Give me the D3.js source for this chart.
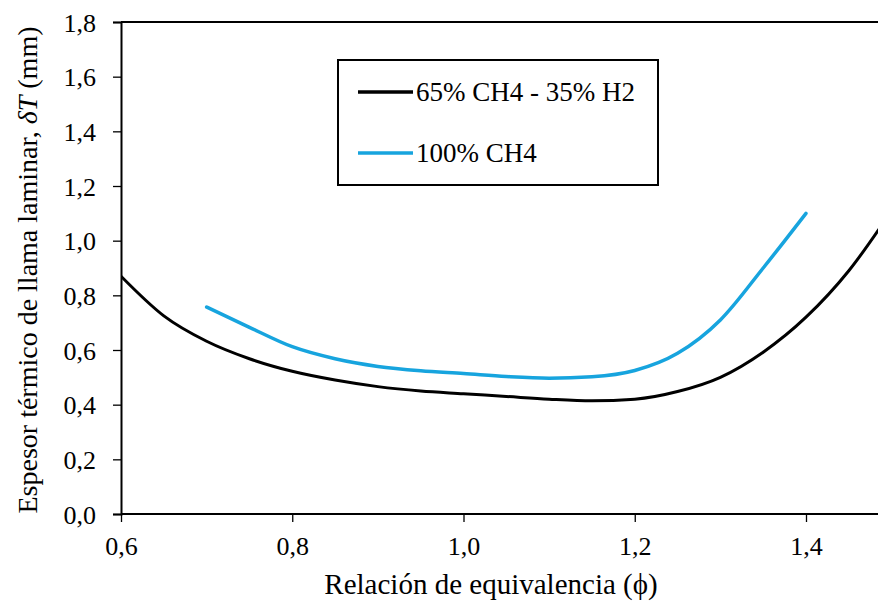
<!DOCTYPE html>
<html>
<head>
<meta charset="utf-8">
<script src="https://cdn.jsdelivr.net/npm/d3@7"></script>
<style>
  body { margin: 0; background: #fff; }
  svg { display: block; }
  svg text { font-family: "Liberation Serif", "DejaVu Serif", serif; fill: #000; }
</style>
</head>
<body>
<svg id="chart" width="878" height="609"></svg>
<script>
// equivalence ratio values
const phiMix = [0.6, 0.65, 0.7, 0.75, 0.8, 0.85, 0.9, 0.95, 1.0, 1.05, 1.1, 1.15, 1.2, 1.25, 1.3, 1.35, 1.4, 1.45, 1.5];
const mix = [0.87, 0.725, 0.632, 0.568, 0.522, 0.49, 0.466, 0.45, 0.44, 0.43, 0.42, 0.414, 0.42, 0.448, 0.5, 0.592, 0.72, 0.89, 1.11];
const phiCH4 = [0.7, 0.75, 0.8, 0.85, 0.9, 0.95, 1.0, 1.05, 1.1, 1.15, 1.2, 1.25, 1.3, 1.35, 1.4];
const ch4 = [0.757, 0.683, 0.612, 0.568, 0.54, 0.524, 0.514, 0.503, 0.497, 0.502, 0.525, 0.588, 0.71, 0.9, 1.1];
const xTicks = [0.6, 0.8, 1.0, 1.2, 1.4];
const yTicks = [0, 0.2, 0.4, 0.6, 0.8, 1.0, 1.2, 1.4, 1.6, 1.8];
const seriesNames = ["65% CH4 - 35% H2", "100% CH4"];

const svg = d3.select("#chart");
const plotLeft = 121, plotTop = 22, plotBottom = 514;

const x = d3.scaleLinear().domain([0.6, 1.4]).range([plotLeft, 806]);
const y = d3.scaleLinear().domain([0, 1.8]).range([plotBottom, plotTop]);
const fmt = d => d3.format(".1f")(d).replace(".", ",");

// top border
svg.append("line")
    .attr("x1", plotLeft).attr("x2", 878)
    .attr("y1", plotTop).attr("y2", plotTop)
    .attr("stroke", "#000").attr("stroke-width", 2);

const xAxis = svg.append("g")
    .attr("transform", `translate(0,${plotBottom})`)
    .call(d3.axisBottom(x).tickValues(xTicks).tickFormat(fmt).tickSize(8).tickPadding(15));
xAxis.select(".domain").attr("d", `M${plotLeft},0H878`);

const yAxis = svg.append("g")
    .attr("transform", `translate(${plotLeft},0)`)
    .call(d3.axisLeft(y).tickValues(yTicks).tickFormat(fmt).tickSize(8).tickPadding(17));

svg.selectAll(".domain").attr("stroke", "#000").attr("stroke-width", 2);
svg.selectAll(".tick line").attr("stroke", "#000").attr("stroke-width", 1.3);
svg.selectAll("g").attr("font-family", null);
svg.selectAll(".tick text").attr("font-size", 26);
yAxis.selectAll(".tick text").attr("dy", "0.35em");

const line = d3.line()
    .x(d => x(d[0]))
    .y(d => y(d[1]))
    .curve(d3.curveMonotoneX);

svg.append("defs").append("clipPath").attr("id", "clip")
    .append("rect").attr("x", plotLeft).attr("y", plotTop).attr("width", 878 - plotLeft).attr("height", plotBottom - plotTop);

svg.append("path")
    .datum(phiMix.map((p, i) => [p, mix[i]]))
    .attr("clip-path", "url(#clip)")
    .attr("fill", "none").attr("stroke", "#000").attr("stroke-width", 3)
    .attr("d", line);

svg.append("path")
    .datum(phiCH4.map((p, i) => [p, ch4[i]]))
    .attr("fill", "none").attr("stroke", "#17a4de").attr("stroke-width", 3.5)
    .attr("stroke-linecap", "round")
    .attr("d", line);

// legend
const lg = svg.append("g");
lg.append("rect")
    .attr("x", 338).attr("y", 60).attr("width", 320).attr("height", 125)
    .attr("fill", "#fff").attr("stroke", "#000").attr("stroke-width", 2);
const legendColors = ["#000", "#17a4de"];
seriesNames.forEach((name, i) => {
    const ly = 92 + i * 61;
    lg.append("line")
        .attr("x1", 358).attr("x2", 413).attr("y1", ly).attr("y2", ly)
        .attr("stroke", legendColors[i]).attr("stroke-width", 3.5);
    lg.append("text")
        .attr("x", 416).attr("y", ly).attr("dy", "0.33em")
        .attr("font-size", 27)
        .text(name);
});

// axis titles
svg.append("text")
    .attr("x", 491).attr("y", 594)
    .attr("text-anchor", "middle").attr("font-size", 29)
    .text("Relación de equivalencia (ϕ)");

const yt = svg.append("text")
    .attr("transform", `translate(37,270) rotate(-90)`)
    .attr("text-anchor", "middle").attr("font-size", 28);
yt.append("tspan").text("Espesor térmico de llama laminar, ");
yt.append("tspan").attr("font-style", "italic").text("δT");
yt.append("tspan").text(" (mm)");
</script>
</body>
</html>
